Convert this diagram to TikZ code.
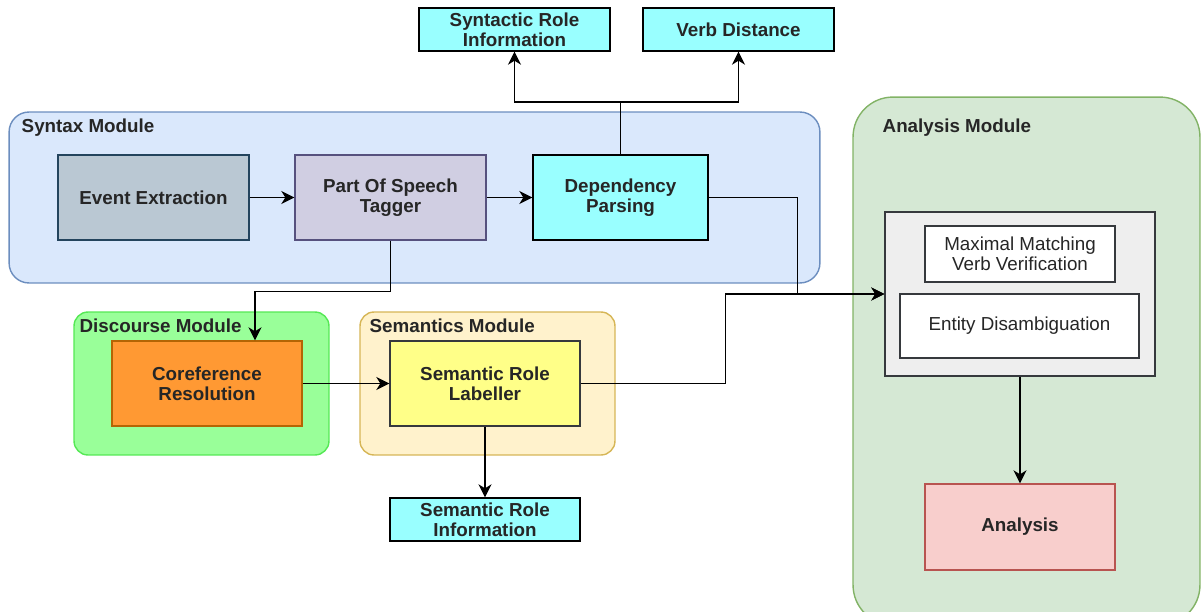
\documentclass[tikz,border=0pt]{standalone}
\usepackage{fontspec}
\setmainfont{Liberation Sans}
\usetikzlibrary{positioning,arrows.meta}
\definecolor{ink}{HTML}{262626}
\definecolor{edge}{HTML}{36393D}
\definecolor{synfill}{HTML}{DAE8FC}
\definecolor{synline}{HTML}{6C8EBF}
\definecolor{evfill}{HTML}{BAC8D3}
\definecolor{evline}{HTML}{23445D}
\definecolor{posfill}{HTML}{D0CEE2}
\definecolor{posline}{HTML}{56517E}
\definecolor{cyanbox}{HTML}{99FFFF}
\definecolor{disfill}{HTML}{99FF99}
\definecolor{disline}{HTML}{55E855}
\definecolor{corfill}{HTML}{FF9933}
\definecolor{corline}{HTML}{B46504}
\definecolor{semfill}{HTML}{FFF2CC}
\definecolor{semline}{HTML}{D6B656}
\definecolor{srlfill}{HTML}{FFFF88}
\definecolor{anfill}{HTML}{D5E8D4}
\definecolor{anline}{HTML}{82B366}
\definecolor{innerfill}{HTML}{EEEEEE}
\definecolor{resfill}{HTML}{F8CECC}
\definecolor{resline}{HTML}{B85450}
\newcommand{\lbl}{\fontsize{10.7}{11.4}\selectfont}

\begin{document}
\begin{tikzpicture}[x=0.02cm, y=-0.02cm, font=\lbl\bfseries, text=ink,
  >={Stealth[length=2.6mm, width=2.6mm, inset=0.8mm]},
  blk/.style={draw=edge, fill=#1, line width=0.8pt, align=center, minimum width=3.82cm,
              minimum height=1.7cm, inner sep=2pt},
  blk/.default=white,
  thin/.style={blk=#1, minimum height=0.86cm},
  module/.style={line width=0.8pt, inner sep=0pt},
  ttl/.style={anchor=west, inner sep=0pt},
  flow/.style={->, line width=0.85pt, draw=black},
  link/.style={line width=0.85pt, draw=black}]
\useasboundingbox (0,0) rectangle (1201,612);
\clip (0,0) rectangle (1201,612);
% -- module frames
\node[module, fill=synfill, draw=synline, rounded corners=0.4cm, minimum width=16.22cm,
  minimum height=3.42cm] (syn) at (414.5,197.5) {};
\node[module, fill=disfill, draw=disline, rounded corners=0.28cm, minimum width=5.1cm,
  minimum height=2.86cm] (dis) at (201.5,383.5) {};
\node[module, fill=semfill, draw=semline, rounded corners=0.28cm, minimum width=5.1cm,
  minimum height=2.86cm] (sem) at (487.5,383.5) {};
\node[module, fill=anfill, draw=anline, rounded corners=0.8cm, minimum width=6.94cm,
  minimum height=10.56cm] (ana) at (1026.5,361) {};
\node[ttl] (syntxt) at ([shift={(13,16.5)}]syn.north west) {Syntax Module};
\node[ttl] (distxt) at ([shift={(6,14.5)}]dis.north west) {Discourse Module};
\node[ttl] (semtxt) at ([shift={(10,14.5)}]sem.north west) {Semantics Module};
\node[ttl] (anatxt) at ([shift={(30,31.5)}]ana.north west) {Analysis Module};
% -- syntax
\node[blk=evfill, draw=evline] (ev) at (153.5,197.5) {Event Extraction};
\node[blk=posfill, draw=posline] (pos) at (390.5,197.5) {Part Of Speech\\Tagger};
\node[blk=cyanbox, draw=black, minimum width=3.5cm] (dep) at (620.5,197.5) {Dependency\\Parsing};
\node[thin=cyanbox, draw=black] (synrole) at (514.5,29.5) {Syntactic Role\\Information};
\node[thin=cyanbox, draw=black] (vdist) at (738.5,29.5) {Verb Distance};
% -- discourse / semantics
\node[blk=corfill, draw=corline, minimum width=3.8cm] (coref) at (207,383.5) {Coreference\\Resolution};
\node[blk=srlfill, minimum width=3.8cm] (srl) at (485,383.5) {Semantic Role\\Labeller};
\node[thin=cyanbox, draw=black, minimum width=3.8cm] (semrole) at (485,519.5) {Semantic Role\\Information};
% -- analysis
\node[blk=innerfill, minimum width=5.4cm, minimum height=3.28cm] (check) at (1020,294) {};
\node[blk, font=\lbl, minimum width=3.8cm, minimum height=1.12cm] (mmv) at (1020,254)
  {Maximal Matching\\Verb Verification};
\node[blk, font=\lbl, minimum width=4.78cm, minimum height=1.28cm] (ent) at (1019.5,326)
  {Entity Disambiguation};
\node[blk=resfill, draw=resline, minimum width=3.8cm, minimum height=1.72cm] (res) at (1020,527) {Analysis};
% -- connectors
\draw[flow] (ev) -- (pos);
\draw[flow] (pos) -- (dep);
\coordinate (split) at (620.5,102);
\draw[link] (dep.north) -- (split);
\draw[flow] (split) -| (synrole.south);
\draw[flow] (split) -| (vdist.south);
\draw[flow] (dep.east) -- ++(89,0) |- (check.west);
\draw[flow] (srl.east) -- ++(145,0) |- (check.west);
\draw[flow] (pos.south) -- ++(0,51) -| ([xshift=0.96cm]coref.north);
\draw[flow] (coref) -- (srl);
\draw[flow] (srl) -- (semrole);
\draw[flow] (check) -- (res);
\end{tikzpicture}
\end{document}
